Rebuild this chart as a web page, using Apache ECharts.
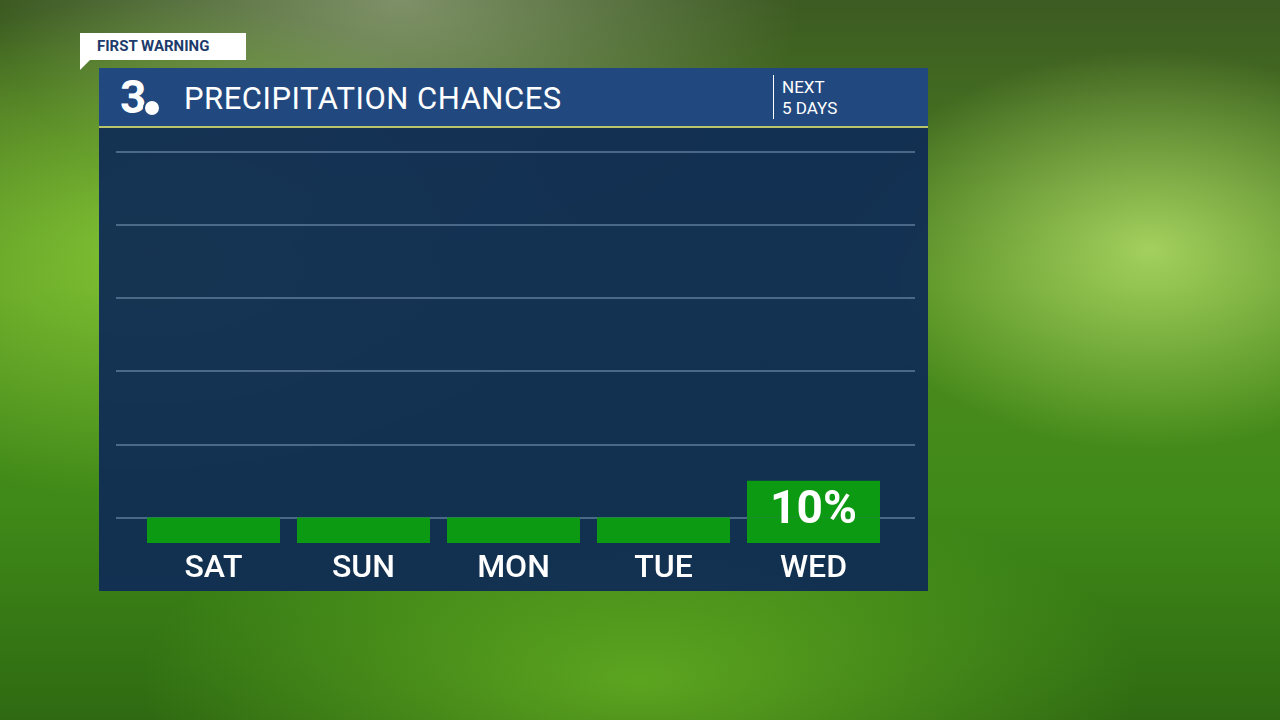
<!DOCTYPE html>
<html><head><meta charset="utf-8">
<script src="https://cdn.jsdelivr.net/npm/echarts@6/dist/echarts.min.js"></script>
<style>
html,body{margin:0;padding:0;width:1280px;height:720px;overflow:hidden;font-family:Roboto,"Open Sans",sans-serif;}
#bg{position:absolute;left:0;top:0;width:1280px;height:720px;
background:
radial-gradient(ellipse 300px 200px at 1150px 250px, rgba(200,240,120,0.7), rgba(0,0,0,0)),
radial-gradient(ellipse 400px 250px at 150px 250px, rgba(150,220,60,0.7), rgba(0,0,0,0)),
radial-gradient(ellipse 500px 200px at 640px 680px, rgba(120,200,40,0.6), rgba(0,0,0,0)),
radial-gradient(ellipse 400px 250px at 400px 0px, rgba(170,180,150,0.6), rgba(0,0,0,0)),
linear-gradient(180deg,#3c5a22 0%,#4f8a1e 40%,#3f8a18 70%,#2f6a12 100%);}
#panel{position:absolute;left:99px;top:68px;width:829px;height:523px;background:rgba(16,44,84,0.95);}
#head{position:absolute;left:99px;top:68px;width:829px;height:58px;background:#22497f;border-bottom:2px solid #b9c46a;}
#title{position:absolute;left:184px;top:80px;color:#fff;font-size:31px;letter-spacing:0.5px;}
#logo{position:absolute;left:120px;top:70px;color:#fff;font-size:46px;font-weight:bold;}
#eye{position:absolute;left:143px;top:99px;width:14px;height:14px;border-radius:50%;background:#fff;border:2px solid #22497f;}
#sep{position:absolute;left:773px;top:75px;width:1px;height:44px;background:#fff;}
#next{position:absolute;left:782px;top:77px;color:#fff;font-size:17px;line-height:21px;}
#tag{position:absolute;left:80px;top:33px;width:166px;height:27px;background:#fff;color:#1d3b6b;font-weight:bold;font-size:15px;line-height:27px;padding-left:17px;box-sizing:border-box;}
#tagt{position:absolute;left:80px;top:60px;width:0;height:0;border-top:10px solid #fff;border-right:10px solid transparent;}
#chart{position:absolute;left:0;top:0;width:1280px;height:720px;}
</style></head><body>
<div id="bg"></div><div id="panel"></div><div id="head"></div>
<div id="logo">3</div><div id="eye"></div>
<div id="title">PRECIPITATION CHANCES</div>
<div id="sep"></div><div id="next">NEXT<br>5 DAYS</div>
<div id="tag">FIRST WARNING</div><div id="tagt"></div>
<div id="chart"></div>
<script>
const days = ['SAT','SUN','MON','TUE','WED'];
const chances = [0,0,0,0,10];
const gridValues = [0,20,40,60,80,100];
const stub = 7;
const labelDays = [false,false,false,false,true];

const chart = echarts.init(document.getElementById('chart'));
const yBase = {type:'value',min:0,max:110,show:false};
chart.setOption({
  animation:false,
  grid:[{left:138.5,right:391.5,top:141,bottom:177},{left:116,right:365,top:141,bottom:177}],
  xAxis:[
    {type:'category',data:days,gridIndex:0,axisLine:{show:false},axisTick:{show:false},
     axisLabel:{color:'#fff',fontSize:32,fontWeight:500,margin:10,fontFamily:'Roboto'}},
    {type:'value',gridIndex:1,show:false,min:0,max:1}
  ],
  yAxis:[Object.assign({gridIndex:0},yBase),Object.assign({gridIndex:1},yBase)],
  series:[
    {type:'line',xAxisIndex:1,yAxisIndex:1,data:[],silent:true,z:0,
     markLine:{symbol:'none',silent:true,z:0,label:{show:false},
       lineStyle:{color:'rgba(120,150,180,0.55)',type:'solid',width:2},
       data:gridValues.map(v=>({yAxis:v+stub}))}},
    {type:'bar',stack:'a',barWidth:133,z:5,data:days.map(()=>stub),itemStyle:{color:'#0c9a12'}},
    {type:'bar',stack:'a',barWidth:133,z:5,data:chances,itemStyle:{color:'#0c9a12'},
     label:{show:true,position:'inside',color:'#fff',fontSize:46,fontWeight:'bold',fontFamily:'Roboto',
       offset:[0,12],
       formatter:p=>labelDays[p.dataIndex]?p.value+'%':''}}
  ]
});
</script></body></html>
